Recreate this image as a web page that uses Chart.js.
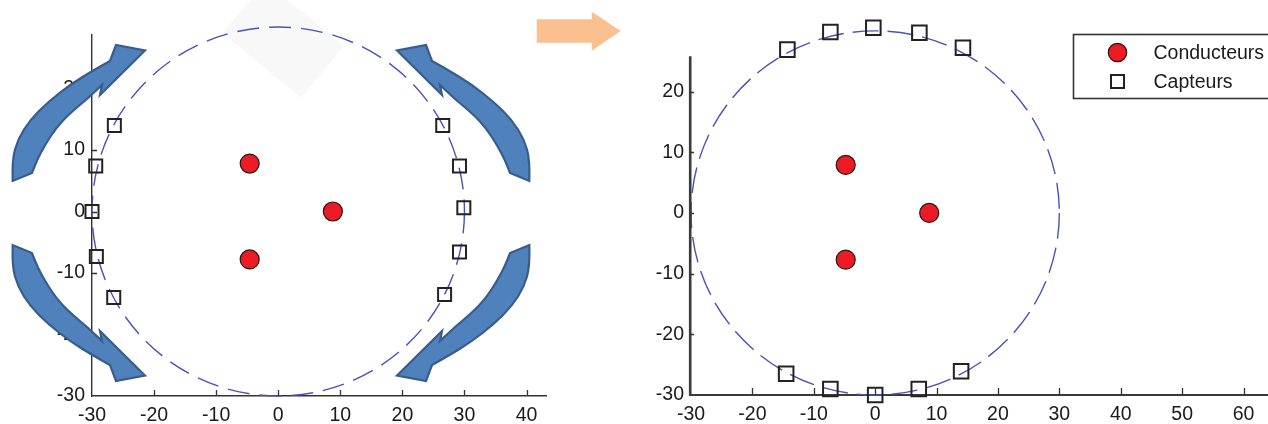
<!DOCTYPE html>
<html><head><meta charset="utf-8">
<script src="https://cdn.jsdelivr.net/npm/chart.js@4.4.1/dist/chart.umd.min.js"></script>
<style>
html,body{margin:0;padding:0;background:#fff;width:1268px;height:424px;overflow:hidden;position:relative;}
#c1{position:absolute;left:0;top:0;}
#c2{position:absolute;left:600px;top:0;}
#ov{position:absolute;left:0;top:0;pointer-events:none;}
</style></head><body>
<canvas id="c1" width="560" height="424"></canvas>
<canvas id="c2" width="700" height="424"></canvas>
<canvas id="ov" width="1268" height="424"></canvas>
<script>
// ---------- data ----------
const seriesNames = ['Conducteurs', 'Capteurs'];
// left chart (before)
const xTicksL = [-30, -20, -10, 0, 10, 20, 30, 40];
const yTicksL = [-30, -20, -10, 0, 10, 20];
const conductorsXL = [-4.6, 8.8, -4.6];
const conductorsYL = [7.8, 0, -7.8];
const sensorsXL = [-26.4, -29.4, -30, -29.3, -26.5, 26.5, 29.2, 29.9, 29.2, 26.8];
const sensorsYL = [14, 7.4, 0, -7.3, -14, 14, 7.4, 0.6, -6.6, -13.5];
// right chart (after)
const xTicksR = [-30, -20, -10, 0, 10, 20, 30, 40, 50, 60];
const yTicksR = [-30, -20, -10, 0, 10, 20];
const conductorsXR = [-4.8, 8.8, -4.8];
const conductorsYR = [7.9, 0, -7.7];
const sensorsXR = [-14.3, -7.3, -0.3, 7.2, 14.3, -14.5, -7.3, 0, 7.1, 14.0];
const sensorsYR = [26.9, 29.8, 30.5, 29.7, 27.2, -26.5, -29.0, -30, -29.0, -26.1];
// dashed reference circle
const circleCenter = [0, 0];
const circleRadius = 30;

const FONT = 'Liberation Sans, Arial, sans-serif';
const RED = '#ED1C24';
const CIRCLE_COLOR = '#4a54b0';

function pts(xs, ys) { return xs.map((x, i) => ({x: x, y: ys[i]})); }

const circlePlugin = {
  id: 'refCircle',
  beforeDatasetsDraw(chart, args, o) {
    const {ctx, scales: {x, y}} = chart;
    const cx = x.getPixelForValue(circleCenter[0]);
    const cy = y.getPixelForValue(circleCenter[1]);
    const rx = Math.abs(x.getPixelForValue(circleCenter[0] + circleRadius) - cx);
    const ry = Math.abs(y.getPixelForValue(circleCenter[1] + circleRadius) - cy);
    ctx.save();
    if (o.diamond) {
      ctx.fillStyle = '#f8f8f8';
      ctx.beginPath();
      o.diamond.forEach((p, i) => i ? ctx.lineTo(p[0], p[1]) : ctx.moveTo(p[0], p[1]));
      ctx.closePath(); ctx.fill();
    }
    ctx.strokeStyle = CIRCLE_COLOR;
    ctx.lineWidth = 1.4;
    ctx.setLineDash(o.dash || [22, 9]);
    ctx.beginPath();
    ctx.ellipse(cx, cy, rx, ry, 0, 0, Math.PI * 2);
    ctx.stroke();
    ctx.restore();
  }
};

const tickPlugin = {
  id: 'inTicks',
  afterDraw(chart, args, o) {
    const {ctx, chartArea: a, scales: {x, y}} = chart;
    ctx.save();
    if (o.yAxisTop !== undefined) {
      ctx.strokeStyle = o.yAxisColor;
      ctx.lineWidth = o.yAxisW;
      ctx.beginPath();
      const ax = a.left - o.yAxisW / 2 + 0.5;
      ctx.moveTo(ax, y.getPixelForValue(o.yAxisTop));
      ctx.lineTo(ax, a.bottom + 1);
      ctx.stroke();
    }
    ctx.strokeStyle = '#333';
    ctx.lineWidth = 1.3;
    ctx.beginPath();
    x.ticks.forEach(t => {
      const px = Math.round(x.getPixelForValue(t.value)) + 0.5;
      if (px - a.left < 3) return;
      ctx.moveTo(px, a.bottom); ctx.lineTo(px, a.bottom - o.xLen);
    });
    y.ticks.forEach(t => {
      const py = Math.round(y.getPixelForValue(t.value)) + 0.5;
      if (a.bottom - py < 3) return;
      ctx.moveTo(a.left, py); ctx.lineTo(a.left + o.yLen, py);
    });
    ctx.stroke();
    ctx.restore();
  }
};

const legendPlugin = {
  id: 'boxLegend',
  afterDraw(chart, args, o) {
    if (!o.show) return;
    const ctx = chart.ctx;
    const ds = chart.data.datasets;
    ctx.save();
    ctx.fillStyle = '#fff';
    ctx.fillRect(o.x, o.y, o.w, o.h);
    ctx.strokeStyle = '#333';
    ctx.lineWidth = 1.6;
    ctx.strokeRect(o.x, o.y, o.w, o.h);
    const rows = [o.y + 18, o.y + 47];
    ds.forEach((d, i) => {
      ctx.fillStyle = d.backgroundColor;
      ctx.strokeStyle = d.borderColor;
      ctx.lineWidth = d.borderWidth;
      Chart.helpers.drawPoint(ctx, {pointStyle: d.pointStyle, radius: d.legendRadius, borderWidth: d.borderWidth, rotation: 0}, o.x + 44, rows[i]);
      ctx.fillStyle = '#1a1a1a';
      ctx.font = '19.5px ' + FONT;
      ctx.textBaseline = 'middle';
      ctx.textAlign = 'left';
      ctx.fillText(d.label, o.x + 80, rows[i] + 1);
    });
    ctx.restore();
  }
};

function makeChart(id, cfg) {
  return new Chart(document.getElementById(id), {
    type: 'scatter',
    data: {
      datasets: [
        {label: seriesNames[0], data: pts(cfg.cx, cfg.cy), pointStyle: 'circle', pointRadius: 9.5,
         legendRadius: 9.2, backgroundColor: RED, borderColor: '#2a1515', borderWidth: 1.2, clip: false, order: 1},
        {label: seriesNames[1], data: pts(cfg.sx, cfg.sy), pointStyle: 'rect', pointRadius: cfg.sqR,
         legendRadius: 9.2, backgroundColor: 'rgba(0,0,0,0)', borderColor: '#222', borderWidth: 2, clip: false, order: 2}
      ]
    },
    options: {
      responsive: false, animation: false, devicePixelRatio: 1,
      layout: {padding: cfg.padding, autoPadding: false},
      plugins: {
        legend: {display: false}, tooltip: {enabled: false},
        refCircle: {dash: cfg.dash, diamond: cfg.diamond},
        inTicks: {xLen: cfg.xLen, yLen: cfg.yLen, yAxisTop: cfg.yAxisTop, yAxisColor: cfg.axisColor, yAxisW: cfg.axisWY},
        boxLegend: cfg.legend || {show: false}
      },
      scales: {
        x: {
          type: 'linear', min: cfg.xMin, max: cfg.xMax,
          afterBuildTicks: s => { s.ticks = cfg.xt.map(v => ({value: v})); },
          afterFit: s => { s.height = cfg.xH; },
          grid: {display: false, drawTicks: false},
          border: {display: true, color: cfg.axisColor, width: cfg.axisW},
          ticks: {color: '#1a1a1a', font: {family: FONT, size: 19.5}, padding: 8, maxRotation: 0, autoSkip: false}
        },
        y: {
          type: 'linear', min: cfg.yMin, max: cfg.yMax,
          afterBuildTicks: s => { s.ticks = cfg.yt.map(v => ({value: v})); },
          afterFit: s => { s.width = cfg.yW; },
          grid: {display: false, drawTicks: false},
          border: {display: cfg.yAxisTop === undefined, color: cfg.axisColor, width: cfg.axisWY},
          ticks: {color: '#1a1a1a', font: {family: FONT, size: 19.5}, padding: 7, autoSkip: false}
        }
      }
    },
    plugins: [circlePlugin, tickPlugin, legendPlugin]
  });
}

makeChart('c1', {
  cx: conductorsXL, cy: conductorsYL, sx: sensorsXL, sy: sensorsYL, sqR: 9.2,
  xt: xTicksL, yt: yTicksL, xMin: -30, xMax: 43.2, yMin: -30, yMax: 28.7,
  padding: {left: 0, top: 35, right: 13.6, bottom: 0}, xH: 28, yW: 92,
  axisColor: '#333', axisW: 1.4, axisWY: 1.4, xLen: 6, yLen: 5, dash: [22, 10],
  diamond: [[222, 33], [266, -18], [344, 46], [301, 98]]
});

makeChart('c2', {
  cx: conductorsXR, cy: conductorsYR, sx: sensorsXR, sy: sensorsYR, sqR: 10.3,
  xt: xTicksR, yt: yTicksR, xMin: -30, xMax: 69.2, yMin: -30, yMax: 32,
  yAxisTop: 25.8,
  padding: {left: 0, top: 14.5, right: 0, bottom: 0}, xH: 29, yW: 91,
  axisColor: '#3a3a3a', axisW: 2, axisWY: 2.6, xLen: 7, yLen: 3, dash: [26, 9],
  legend: {show: true, x: 473.5, y: 34.5, w: 240, h: 64}
});

// ---------- decorative arrows (annotation overlay) ----------
const ov = document.getElementById('ov').getContext('2d');
const arrowUpper = [[12.7,181],[12,160],[18,139],[30,120],[48,102],[71,84],[94,70],[110,61]];
const arrowHead = [[116,45],[145,50.5],[100,95],[102,85]];
const arrowLower = [[87,99],[70,113],[56,128],[45,145],[37,160],[32,173]];
function smooth(ctx, p, first) {
  if (first) ctx.moveTo(p[0][0], p[0][1]); else ctx.lineTo(p[0][0], p[0][1]);
  for (let i = 1; i < p.length - 1; i++) {
    const mx = (p[i][0] + p[i + 1][0]) / 2, my = (p[i][1] + p[i + 1][1]) / 2;
    ctx.quadraticCurveTo(p[i][0], p[i][1], mx, my);
  }
  ctx.lineTo(p[p.length - 1][0], p[p.length - 1][1]);
}
function drawArrow(fx, fy) {
  const t = p => [fx ? 542 - p[0] : p[0], fy ? 426 - p[1] : p[1]];
  ov.save();
  ov.fillStyle = '#4F81BD';
  ov.strokeStyle = '#385D8A';
  ov.lineWidth = 2.2;
  ov.lineJoin = 'miter';
  ov.beginPath();
  smooth(ov, arrowUpper.map(t), true);
  arrowHead.map(t).forEach(p => ov.lineTo(p[0], p[1]));
  smooth(ov, arrowLower.map(t), false);
  ov.closePath();
  ov.fill(); ov.stroke();
  ov.restore();
}
drawArrow(false, false);
drawArrow(true, false);
drawArrow(false, true);
drawArrow(true, true);
// orange arrow between the panels
ov.fillStyle = '#FAC090';
ov.beginPath();
[[536.7,19.3],[591.7,19.3],[591.7,11.7],[620.7,31],[591.7,50.7],[591.7,42.7],[536.7,42.7]]
  .forEach((p, i) => i ? ov.lineTo(p[0], p[1]) : ov.moveTo(p[0], p[1]));
ov.closePath(); ov.fill();
</script>
</body></html>
